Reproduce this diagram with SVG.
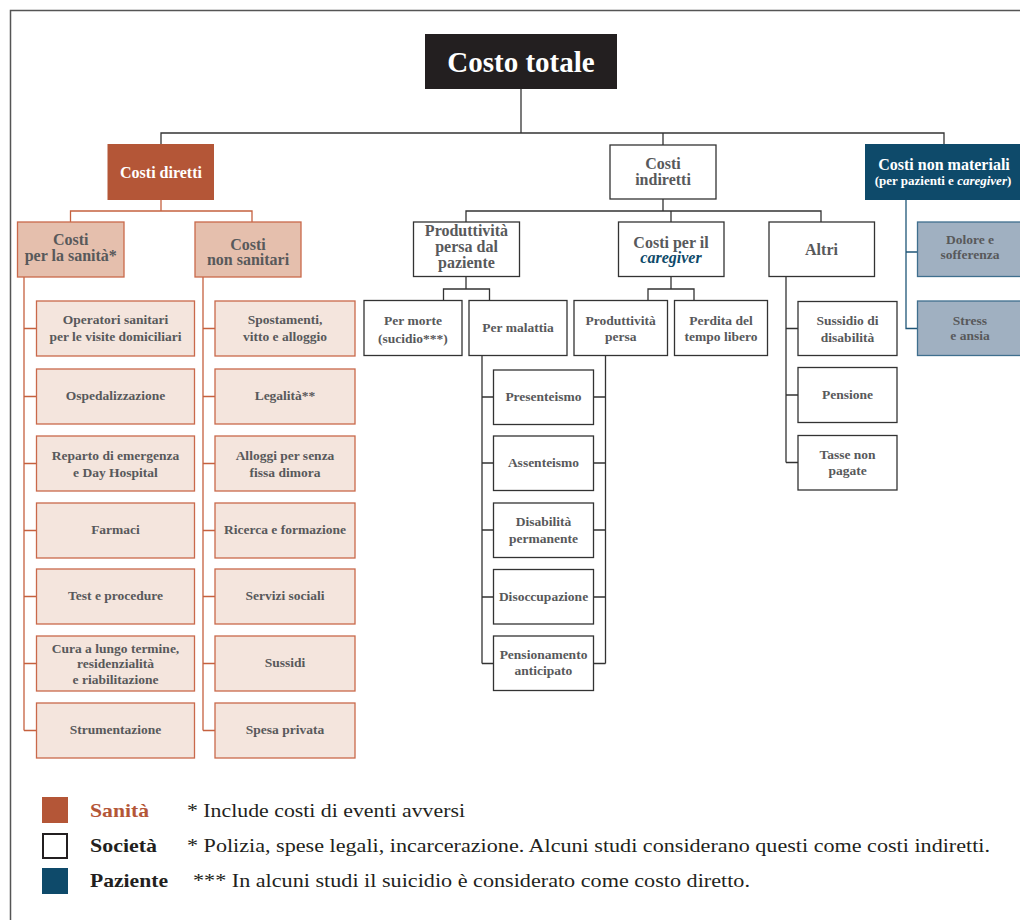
<svg xmlns="http://www.w3.org/2000/svg" width="1020" height="920" viewBox="0 0 1020 920">
<style>
text{font-family:"Liberation Serif","Times New Roman",serif;font-weight:bold;text-anchor:middle}
.t{font-size:13.5px;fill:#58595b}
.h{font-size:16px;fill:#58595b}
.w{fill:#ffffff}
.lf rect{fill:#f4e5dd;stroke:#c9694b;stroke-width:1.3}
.sh rect{fill:#e5bfad;stroke:#c9694b;stroke-width:1.3}
.so rect{fill:#ffffff;stroke:#333333;stroke-width:1.3}
.pb rect{fill:#a0b0c1;stroke:#3f6f8e;stroke-width:1.3}
.cs{stroke:#333333;stroke-width:1.3;fill:none}
.cr{stroke:#c5613f;stroke-width:1.3;fill:none}
.cb{stroke:#1f5677;stroke-width:1.3;fill:none}
.note{font-weight:normal;text-anchor:start;font-size:19px;fill:#231f20}
.lab{text-anchor:start;font-size:19px;fill:#231f20}
</style>
<rect x="0" y="0" width="1020" height="920" fill="#ffffff"/>
<path d="M10.5 925 V10.5 H1025" stroke="#555555" stroke-width="1.5" fill="none"/>

<g id="connectors">
  <path class="cs" d="M521 89 V133" stroke="#888888"/>
  <path class="cs" d="M161 144 V133 H944 V144 M663 133 V145"/>
  <path class="cr" d="M161 200 V211 M70.5 222 V211 H252 V222"/>
  <path class="cr" d="M24 277 V730.5 M24 328.5 H36.5 M24 396.5 H36.5 M24 463.5 H36.5 M24 530.5 H36.5 M24 596.5 H36.5 M24 663.5 H36.5 M24 730.5 H36.5"/>
  <path class="cr" d="M203 277 V730.5 M203 328.5 H215 M203 396.5 H215 M203 463.5 H215 M203 530.5 H215 M203 596.5 H215 M203 663.5 H215 M203 730.5 H215"/>
  <path class="cs" d="M663 199 V211 M466 222 V211 H821 V222 M671 211 V222"/>
  <path class="cs" d="M466 276.5 V289 M443.5 300.5 V289 H489.5 V300.5"/>
  <path class="cs" d="M671 276.5 V289 M648 300.5 V289 H694 V300.5"/>
  <path class="cs" d="M482 355 V663.5 M482 397 H493.5 M482 463 H493.5 M482 530 H493.5 M482 597 H493.5 M482 663.5 H493.5"/>
  <path class="cs" d="M605.5 355 V663.5 M605.5 397 H593.5 M605.5 463 H593.5 M605.5 530 H593.5 M605.5 597 H593.5 M605.5 663.5 H593.5"/>
  <path class="cs" d="M786 276.5 V462.5 M786 328.5 H798 M786 395 H798 M786 462.5 H798"/>
  <path class="cb" d="M906 200 V328.5 H917.5 M906 252 H917.5"/>
</g>

<g id="costo-totale"><rect x="425" y="34" width="192" height="55" fill="#231f20"/><text class="w" x="521" y="72" font-size="29">Costo totale</text></g>

<g id="costi-diretti"><rect x="107.5" y="144" width="106.5" height="56" fill="#b45637"/><text class="w" x="161" y="178" font-size="16">Costi diretti</text></g>
<g id="costi-indiretti" class="so"><rect x="610" y="145" width="106" height="54"/><text class="h" x="663" y="169">Costi</text><text class="h" x="663" y="185">indiretti</text></g>
<g id="costi-non-materiali"><rect x="865" y="144" width="165" height="56" fill="#0e4a6a"/><text class="w" x="944" y="170" font-size="16">Costi non materiali</text><text class="w" x="943" y="185" font-size="13">(per pazienti e <tspan font-style="italic">caregiver</tspan>)</text></g>

<g id="costi-sanita" class="sh"><rect x="17.5" y="222" width="106.5" height="55"/><text class="h" x="70.75" y="245">Costi</text><text class="h" x="70.75" y="261">per la sanità*</text></g>
<g id="costi-non-sanitari" class="sh"><rect x="195" y="222" width="106" height="55"/><text class="h" x="248" y="250">Costi</text><text class="h" x="248" y="265">non sanitari</text></g>

<g id="operatori" class="lf"><rect x="36.5" y="301" width="158" height="55"/><text class="t" x="115.5" y="324">Operatori sanitari</text><text class="t" x="115.5" y="341">per le visite domiciliari</text></g>
<g id="ospedalizzazione" class="lf"><rect x="36.5" y="369" width="158" height="55"/><text class="t" x="115.5" y="400">Ospedalizzazione</text></g>
<g id="reparto" class="lf"><rect x="36.5" y="436" width="158" height="55"/><text class="t" x="115.5" y="459.5">Reparto di emergenza</text><text class="t" x="115.5" y="476.5">e Day Hospital</text></g>
<g id="farmaci" class="lf"><rect x="36.5" y="503" width="158" height="55"/><text class="t" x="115.5" y="534">Farmaci</text></g>
<g id="test" class="lf"><rect x="36.5" y="569" width="158" height="55"/><text class="t" x="115.5" y="600">Test e procedure</text></g>
<g id="cura" class="lf"><rect x="36.5" y="636" width="158" height="55"/><text class="t" x="115.5" y="652.5">Cura a lungo termine,</text><text class="t" x="115.5" y="668">residenzialità</text><text class="t" x="115.5" y="683.5">e riabilitazione</text></g>
<g id="strumentazione" class="lf"><rect x="36.5" y="703" width="158" height="55"/><text class="t" x="115.5" y="734">Strumentazione</text></g>

<g id="spostamenti" class="lf"><rect x="215" y="301" width="140" height="55"/><text class="t" x="285" y="324">Spostamenti,</text><text class="t" x="285" y="341">vitto e alloggio</text></g>
<g id="legalita" class="lf"><rect x="215" y="369" width="140" height="55"/><text class="t" x="285" y="400">Legalità**</text></g>
<g id="alloggi" class="lf"><rect x="215" y="436" width="140" height="55"/><text class="t" x="285" y="459.5">Alloggi per senza</text><text class="t" x="285" y="476.5">fissa dimora</text></g>
<g id="ricerca" class="lf"><rect x="215" y="503" width="140" height="55"/><text class="t" x="285" y="534">Ricerca e formazione</text></g>
<g id="servizi" class="lf"><rect x="215" y="569" width="140" height="55"/><text class="t" x="285" y="600">Servizi sociali</text></g>
<g id="sussidi" class="lf"><rect x="215" y="636" width="140" height="55"/><text class="t" x="285" y="667">Sussidi</text></g>
<g id="spesa" class="lf"><rect x="215" y="703" width="140" height="55"/><text class="t" x="285" y="734">Spesa privata</text></g>

<g id="produttivita-paziente" class="so"><rect x="413.5" y="222" width="106" height="54.5"/><text class="h" x="466.5" y="235.5" font-size="14.5">Produttività</text><text class="h" x="466.5" y="251.5" font-size="14.5">persa dal</text><text class="h" x="466.5" y="267.5" font-size="14.5">paziente</text></g>
<g id="costi-caregiver" class="so"><rect x="618.5" y="222" width="105.5" height="54.5"/><text class="h" x="671" y="247.5">Costi per il</text><text class="h" x="671" y="263" font-style="italic" style="fill:#0e4a6a">caregiver</text></g>
<g id="altri" class="so"><rect x="769" y="222" width="105.5" height="54.5"/><text class="h" x="821.5" y="255">Altri</text></g>

<g id="per-morte" class="so"><rect x="364" y="300.5" width="98" height="55"/><text class="t" x="413" y="324.5">Per morte</text><text class="t" x="413" y="342.5">(sucidio***)</text></g>
<g id="per-malattia" class="so"><rect x="469" y="300.5" width="98" height="55"/><text class="t" x="518" y="332">Per malattia</text></g>
<g id="produttivita-persa" class="so"><rect x="574" y="300.5" width="93.5" height="55"/><text class="t" x="620.7" y="325">Produttività</text><text class="t" x="620.7" y="341">persa</text></g>
<g id="perdita-tempo" class="so"><rect x="674.5" y="300.5" width="93" height="55"/><text class="t" x="721" y="325">Perdita del</text><text class="t" x="721" y="341">tempo libero</text></g>

<g id="presenteismo" class="so"><rect x="493.5" y="370" width="100" height="54.5"/><text class="t" x="543.5" y="400.5">Presenteismo</text></g>
<g id="assenteismo" class="so"><rect x="493.5" y="436" width="100" height="54.5"/><text class="t" x="543.5" y="467">Assenteismo</text></g>
<g id="disabilita" class="so"><rect x="493.5" y="503" width="100" height="54.5"/><text class="t" x="543.5" y="525.5">Disabilità</text><text class="t" x="543.5" y="542.5">permanente</text></g>
<g id="disoccupazione" class="so"><rect x="493.5" y="569.5" width="100" height="54.5"/><text class="t" x="543.5" y="601">Disoccupazione</text></g>
<g id="pensionamento" class="so"><rect x="493.5" y="636" width="100" height="54.5"/><text class="t" x="543.5" y="658.5">Pensionamento</text><text class="t" x="543.5" y="675">anticipato</text></g>

<g id="sussidio-disabilita" class="so"><rect x="798" y="301.5" width="99" height="54"/><text class="t" x="847.5" y="325">Sussidio di</text><text class="t" x="847.5" y="342">disabilità</text></g>
<g id="pensione" class="so"><rect x="798" y="367.5" width="99" height="55"/><text class="t" x="847.5" y="399">Pensione</text></g>
<g id="tasse" class="so"><rect x="798" y="435.5" width="99" height="54.5"/><text class="t" x="847.5" y="459">Tasse non</text><text class="t" x="847.5" y="475">pagate</text></g>

<g id="dolore" class="pb"><rect x="917.5" y="222" width="110" height="54.5"/><text class="t" x="970" y="243.5">Dolore e</text><text class="t" x="970" y="258.5">sofferenza</text></g>
<g id="stress" class="pb"><rect x="917.5" y="301" width="110" height="54.5"/><text class="t" x="970" y="325">Stress</text><text class="t" x="970" y="340">e ansia</text></g>

<g id="legend">
  <rect x="42" y="797" width="26" height="26" fill="#b45637"/>
  <rect x="43" y="834" width="24" height="24" fill="#ffffff" stroke="#231f20" stroke-width="2"/>
  <rect x="42" y="868" width="26" height="26" fill="#0e4a6a"/>
  <text class="lab" x="90" y="817" style="fill:#b45637" textLength="59" lengthAdjust="spacingAndGlyphs">Sanità</text>
  <text class="lab" x="90" y="852" textLength="67" lengthAdjust="spacingAndGlyphs">Società</text>
  <text class="lab" x="90" y="887" textLength="78" lengthAdjust="spacingAndGlyphs">Paziente</text>
  <text class="note" x="187" y="817" textLength="278" lengthAdjust="spacingAndGlyphs">* Include costi di eventi avversi</text>
  <text class="note" x="187" y="852" textLength="803" lengthAdjust="spacingAndGlyphs">* Polizia, spese legali, incarcerazione. Alcuni studi considerano questi come costi indiretti.</text>
  <text class="note" x="193" y="887" textLength="557" lengthAdjust="spacingAndGlyphs">*** In alcuni studi il suicidio è considerato come costo diretto.</text>
</g>
</svg>
